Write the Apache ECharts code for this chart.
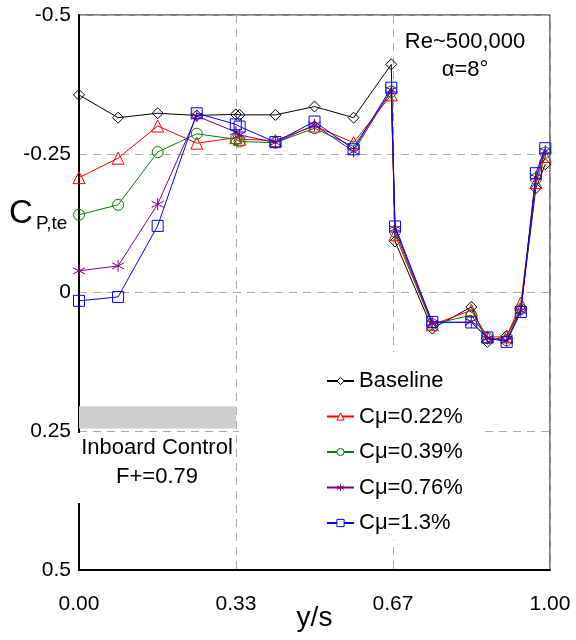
<!DOCTYPE html>
<html><head><meta charset="utf-8">
<script src="https://cdn.jsdelivr.net/npm/echarts@6/dist/echarts.min.js"></script>
<style>html,body{margin:0;padding:0;background:#fff}#c{width:576px;height:640px}</style>
</head><body><div id="c"></div>
<script>
const xPos = [0, 0.083, 0.167, 0.25, 0.333, 0.341, 0.417, 0.5, 0.583, 0.663, 0.671, 0.75, 0.833, 0.867, 0.908, 0.938, 0.97, 0.99];
const baseline = [-0.356, -0.315, -0.323, -0.319, -0.321, -0.320, -0.320, -0.335, -0.315, -0.411, -0.092, 0.065, 0.026, 0.089, 0.078, 0.030, -0.188, -0.231];
const cmu022 = [-0.207, -0.242, -0.300, -0.269, -0.279, -0.276, -0.274, -0.300, -0.270, -0.356, -0.104, 0.058, 0.032, 0.080, 0.080, 0.019, -0.198, -0.245];
const cmu039 = [-0.140, -0.158, -0.253, -0.286, -0.276, -0.272, -0.270, -0.296, -0.263, -0.362, -0.110, 0.057, 0.041, 0.082, 0.086, 0.030, -0.205, -0.252];
const cmu076 = [-0.039, -0.048, -0.159, -0.318, -0.289, -0.284, -0.270, -0.302, -0.254, -0.365, -0.115, 0.055, 0.053, 0.083, 0.087, 0.033, -0.208, -0.255];
const cmu13 = [0.015, 0.008, -0.120, -0.323, -0.303, -0.299, -0.271, -0.308, -0.258, -0.369, -0.119, 0.053, 0.054, 0.081, 0.089, 0.035, -0.215, -0.260];
const seriesNames = ['Baseline', 'Cμ=0.22%', 'Cμ=0.39%', 'Cμ=0.76%', 'Cμ=1.3%'];
const xTickLabels = ['0.00', '0.33', '0.67', '1.00'];
const controlBand = {x0: 0, x1: 0.333, y0: 0.205, y1: 0.245};

const FONT = '"Liberation Sans", Arial, sans-serif';
const asterisk = 'path://M0,-10L0,10M-8.66,-5L8.66,5M-8.66,5L8.66,-5';
const styles = [
  {color: '#000000', symbol: 'diamond', size: 11},
  {color: '#ff0000', symbol: 'triangle', size: 12},
  {color: '#008000', symbol: 'circle', size: 11},
  {color: '#800080', symbol: asterisk, size: 12},
  {color: '#0000ff', symbol: 'rect', size: 11}
];
const values = [baseline, cmu022, cmu039, cmu076, cmu13];

const series = values.map((vals, k) => {
  const s = {
    name: seriesNames[k],
    type: 'line',
    data: xPos.map((x, i) => [x, vals[i]]),
    symbol: styles[k].symbol,
    symbolSize: styles[k].size,
    showAllSymbol: true,
    lineStyle: {color: styles[k].color, width: 1},
    itemStyle: {color: 'rgba(255,255,255,0)', borderColor: styles[k].color, borderWidth: 1},
    emphasis: {disabled: true},
    z: 2 + k * 0.1
  };
  if (k === 0) {
    s.markArea = {
      silent: true,
      itemStyle: {color: '#cfcfcf'},
      data: [[{coord: [controlBand.x0, controlBand.y0]}, {coord: [controlBand.x1, controlBand.y1]}]]
    };
  }
  return s;
});

const chart = echarts.init(document.getElementById('c'), null, {renderer: 'canvas'});
chart.setOption({
  animation: false,
  backgroundColor: '#fff',
  textStyle: {fontFamily: FONT},
  grid: {left: 79, right: 26, top: 15, bottom: 70, show: true, borderColor: '#000', borderWidth: 1, backgroundColor: 'transparent', containLabel: false, outerBoundsMode: 'none'},
  xAxis: {
    type: 'value', min: 0, max: 1, interval: 1 / 3,
    name: 'y/s', nameLocation: 'middle', nameGap: 34, nameMoveOverlap: false,
    nameTextStyle: {fontSize: 28, color: '#000', fontFamily: FONT},
    axisLine: {show: true, onZero: false, lineStyle: {color: '#000', width: 2}},
    axisTick: {show: false},
    axisLabel: {fontSize: 21, color: '#000', margin: 24, fontFamily: FONT,
      formatter: v => xTickLabels[Math.round(v * 3)]},
    splitLine: {show: true, lineStyle: {color: '#aaa', type: [8, 6], width: 1}}
  },
  yAxis: {
    type: 'value', min: -0.5, max: 0.5, interval: 0.25, inverse: true,
    axisLine: {show: true, onZero: false, lineStyle: {color: '#000', width: 2}},
    axisTick: {show: false},
    axisLabel: {fontSize: 21, color: '#000', margin: 8, fontFamily: FONT},
    splitLine: {show: true, lineStyle: {color: '#aaa', type: [8, 6], width: 1}}
  },
  legend: {
    orient: 'vertical', left: 326, top: 370, itemGap: 13.5, padding: 0,
    itemWidth: 27, itemHeight: 9,
    textStyle: {fontSize: 22, color: '#000', fontFamily: FONT, padding: [0, 0, 0, 0]},
    backgroundColor: 'transparent', z: 6,
    data: seriesNames.map((n, k) => ({name: n, itemStyle: {color: '#fff', borderColor: styles[k].color, borderWidth: 1}}))
  },
  graphic: [
    {type: 'rect', shape: {x: 239, y: 352, width: 241, height: 188}, style: {fill: '#fff'}, z: 5, silent: true},
    {type: 'rect', shape: {x: 70, y: 433, width: 164, height: 70}, style: {fill: '#fff'}, z: 5, silent: true},
    {type: 'text', x: 157, y: 448, z: 7, style: {text: 'Inboard Control', fontSize: 22, fontFamily: FONT, fill: '#000', align: 'center', verticalAlign: 'middle'}},
    {type: 'text', x: 157, y: 477, z: 7, style: {text: 'F+=0.79', fontSize: 22, fontFamily: FONT, fill: '#000', align: 'center', verticalAlign: 'middle'}},
    {type: 'text', x: 465, y: 42, z: 7, style: {text: 'Re~500,000', fontSize: 22, fontFamily: FONT, fill: '#000', align: 'center', verticalAlign: 'middle'}},
    {type: 'text', x: 465, y: 70, z: 7, style: {text: 'α=8°', fontSize: 22, fontFamily: FONT, fill: '#000', align: 'center', verticalAlign: 'middle'}},
    {type: 'text', x: 9, y: 214, z: 7, style: {text: 'C', fontSize: 33, fontFamily: FONT, fill: '#000', align: 'left', verticalAlign: 'middle'}},
    {type: 'text', x: 36, y: 224, z: 7, style: {text: 'P,te', fontSize: 19, fontFamily: FONT, fill: '#000', align: 'left', verticalAlign: 'middle'}}
  ],
  series: series
});
</script></body></html>
